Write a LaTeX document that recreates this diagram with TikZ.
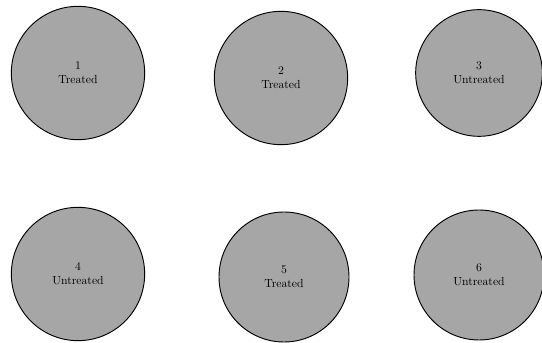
\documentclass[tikz,border=0pt]{standalone}
\begin{document}
\begin{tikzpicture}[every node/.style={font=\normalsize}, plot/.style={draw,circle,thick,fill=black!35,minimum size=4.0cm,align=center,inner sep=0pt}]
\useasboundingbox (0,0) rectangle (16.26,10.29);
\node[plot] (p1) at (2.34,8.10) {1\\Treated};
\node[plot] (p2) at (8.43,7.95) {2\\Treated};
\node[plot,minimum size=3.8cm] (p3) at (14.37,8.10) {3\\Untreated};
\node[plot] (p4) at (2.34,2.07) {4\\Untreated};
\node[plot,minimum size=3.9cm] (p5) at (8.52,1.98) {5\\Treated};
\node[plot,minimum size=3.9cm] (p6) at (14.37,2.04) {6\\Untreated};
\end{tikzpicture}
\end{document}
